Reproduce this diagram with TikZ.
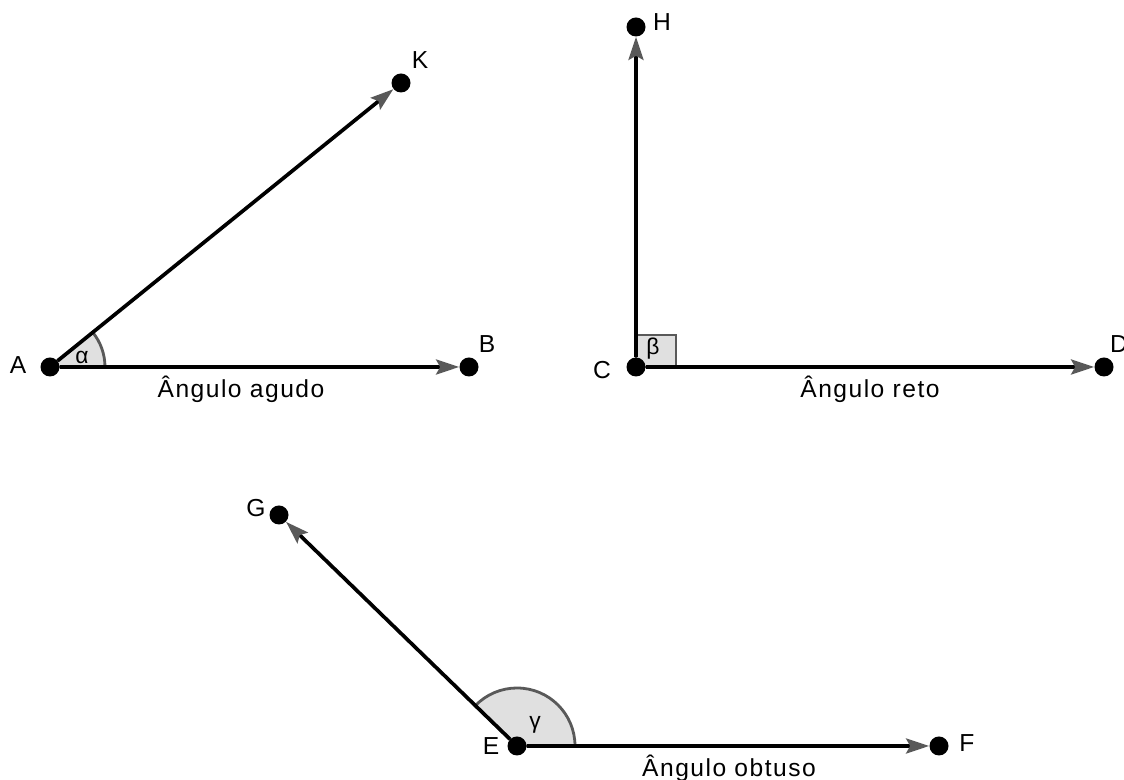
\documentclass[tikz,border=0pt]{standalone}
\usepackage{fontspec}
\setmainfont{Liberation Sans}[LetterSpace=6]
\usetikzlibrary{positioning, arrows.meta, backgrounds}

\begin{document}
\begin{tikzpicture}[font=\fontsize{14}{16}\selectfont]

\tikzset{
  pt/.style={circle, fill=black, inner sep=0pt, minimum size=0.38cm},
  ray/.style={line width=2.1pt, -{Stealth[length=0.46cm, width=0.30cm, inset=0.08cm, color=black!65]}},
  lbl/.style={inner sep=1pt},
  angfill/.style={fill=black!12, draw=black!65, line width=1.6pt},
  greek/.style={inner sep=0pt, font=\fontsize{13}{15}\selectfont},
}

\useasboundingbox (0,0) rectangle (22.48,15.6);

% agudo
\node[pt] (A) at (1.00,8.26) {};
\node[pt] (B) at (9.38,8.26) {};
\node[pt] (K) at (8.02,13.94) {};
\node[lbl] (lA) at ([shift={(-0.64,0.04)}]A) {A};
\node[lbl] (lB) at ([shift={(0.36,0.46)}]B) {B};
\node[lbl] (lK) at ([shift={(0.38,0.46)}]K) {K};
\draw[ray] (A) -- (B);
\draw[ray] (A) -- (K);
\node[greek] (alpha) at (1.64,8.46) {α};
\node (cap1) at (4.82,7.82) {Ângulo agudo};

% reto
\node[pt] (C) at (12.72,8.26) {};
\node[pt] (D) at (22.08,8.26) {};
\node[pt] (H) at (12.72,15.06) {};
\node[lbl] (lC) at ([shift={(-0.68,-0.06)}]C) {C};
\node[lbl] (lD) at ([shift={(0.30,0.46)}]D) {D};
\node[lbl] (lH) at ([shift={(0.52,0.10)}]H) {H};
\draw[ray] (C) -- (D);
\draw[ray] (C) -- (H);
\node[greek] (beta) at (13.06,8.62) {β};
\node (cap2) at (17.40,7.82) {Ângulo reto};

% obtuso
\node[pt] (E) at (10.34,0.68) {};
\node[pt] (F) at (18.78,0.68) {};
\node[pt] (G) at (5.58,5.30) {};
\node[lbl] (lE) at ([shift={(-0.52,0.00)}]E) {E};
\node[lbl] (lF) at ([shift={(0.56,0.06)}]F) {F};
\node[lbl] (lG) at ([shift={(-0.46,0.14)}]G) {G};
\draw[ray] (E) -- (F);
\draw[ray] (E) -- (G);
\node[greek] (gamma) at (10.70,1.10) {γ};
\node (cap3) at (14.58,0.24) {Ângulo obtuso};

\begin{scope}[on background layer]
  \draw[angfill] (A.center) -- ++(1.1,0) arc[start angle=0, end angle=39, radius=1.1cm] -- cycle;
  \draw[angfill] (C.center) rectangle ++(0.8,0.64);
  \draw[angfill] (E.center) -- ++(1.16,0) arc[start angle=0, end angle=136, radius=1.16cm] -- cycle;
\end{scope}

\end{tikzpicture}
\end{document}
